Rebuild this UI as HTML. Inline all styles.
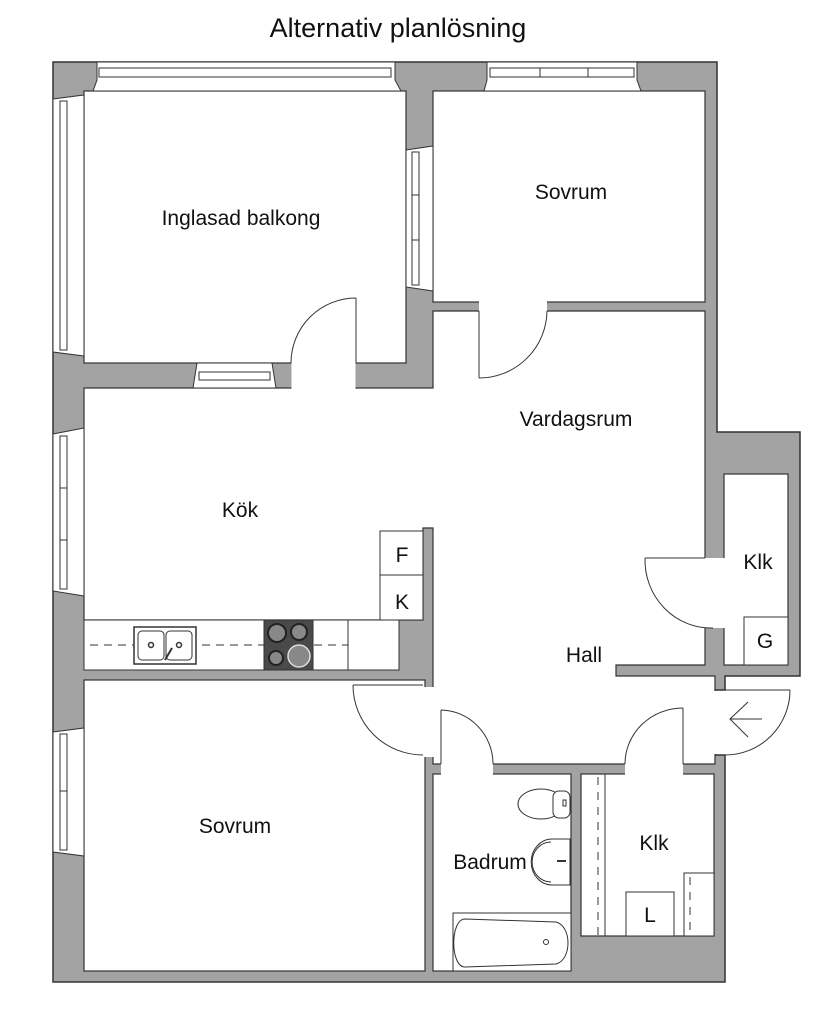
<!DOCTYPE html>
<html><head><meta charset="utf-8"><style>
html,body{margin:0;padding:0;background:#fff;}
svg{display:block;}
text{font-family:"Liberation Sans",sans-serif;fill:#111;}
</style></head><body>
<svg width="832" height="1024" viewBox="0 0 832 1024" xmlns="http://www.w3.org/2000/svg">
<text x="398" y="37" font-size="27" text-anchor="middle">Alternativ planlösning</text>

<polygon points="53,62 717,62 717,432 800,432 800,676 725,676 725,690 715,690 715,755 725,755 725,982 53,982" fill="#a3a3a3" stroke="#333" stroke-width="1.5"/>

<g fill="#fff" stroke="#333" stroke-width="1.2">
<rect x="84" y="91" width="322" height="272"/>
<rect x="433" y="91" width="272" height="211"/>
<polygon points="84,388 433,388 433,311 705,311 705,665 616,665 616,676 715,676 715,764 433,764 433,528 423,528 423,620 84,620"/>
<rect x="84" y="680" width="341" height="291"/>
<rect x="433" y="774" width="138" height="197"/>
<rect x="581" y="774" width="133" height="162"/>
<rect x="724" y="474" width="64" height="191"/>
</g>
<g fill="#fff">
<rect x="479" y="301" width="68" height="11"/>
<rect x="291.5" y="362" width="64" height="27"/>
<rect x="704" y="558" width="21" height="70"/>
<rect x="441" y="763" width="52" height="12"/>
<rect x="625" y="763" width="58" height="12"/>
<rect x="422" y="687" width="12" height="70"/>
<rect x="714" y="691" width="12" height="63"/>
</g>

<g fill="#fff" stroke="#333" stroke-width="1">
<polygon points="97,62 395,62 395,80 401,91 93,91 97,80"/>
<rect x="99" y="68" width="292" height="9"/>
<polygon points="487,62 637,62 637,80 641,91 484,91 487,80"/>
<rect x="490" y="68" width="144" height="9"/>
<line x1="540" y1="68" x2="540" y2="77"/><line x1="588" y1="68" x2="588" y2="77"/>
<polygon points="53,99 84,95 84,356 53,352"/>
<rect x="60" y="101" width="7" height="249"/>
<polygon points="53,434 84,428 84,596 53,591"/>
<rect x="60" y="436" width="7" height="153"/>
<line x1="60" y1="488" x2="67" y2="488"/><line x1="60" y1="540" x2="67" y2="540"/>
<polygon points="53,732 84,728 84,856 53,852"/>
<rect x="60" y="734" width="7" height="116"/>
<line x1="60" y1="791" x2="67" y2="791"/>
<polygon points="406,150 433,146 433,291 406,287"/>
<rect x="412" y="152" width="7" height="133"/>
<line x1="412" y1="195" x2="419" y2="195"/><line x1="412" y1="240" x2="419" y2="240"/>
<polygon points="197,363 272,363 276,388 193,388"/>
<rect x="199" y="372" width="71" height="8"/>
</g>

<g fill="none" stroke="#333" stroke-width="1">
<line x1="356" y1="298" x2="356" y2="363"/>
<path d="M356,298 A65,65 0 0 0 291,363"/>
<line x1="479" y1="311" x2="479" y2="378"/>
<path d="M479,378 A68,68 0 0 0 547,311"/>
<line x1="645" y1="558" x2="705" y2="558"/>
<path d="M645,558 A66,68 0 0 0 713,628"/>
<line x1="353" y1="685" x2="423" y2="685"/>
<path d="M353,685 A70,70 0 0 0 423,755"/>
<line x1="441" y1="710" x2="441" y2="764"/>
<path d="M441,710 A53,54 0 0 1 493,764"/>
<line x1="683" y1="708" x2="683" y2="764"/>
<path d="M683,708 A58,56 0 0 0 625,764"/>
<line x1="725" y1="690" x2="790" y2="690"/>
<path d="M790,690 A65,65 0 0 1 725,755"/>
<line x1="730" y1="719" x2="762" y2="719"/>
<polyline points="748,702 730,719 748,737"/>
</g>

<g stroke="#333" stroke-width="1">
<rect x="84" y="620" width="315" height="50" fill="#fff"/>
<line x1="348" y1="620" x2="348" y2="670"/>
<rect x="380" y="531" width="43" height="44" fill="#fff"/>
<rect x="380" y="575" width="43" height="45" fill="#fff"/>
<line x1="90" y1="645" x2="348" y2="645" stroke-dasharray="8,6"/>
<rect x="134" y="627" width="62" height="37" fill="#fff" stroke-width="1.5"/>
<rect x="138" y="631" width="26" height="29" rx="4" fill="#fff"/>
<rect x="166" y="631" width="26" height="29" rx="4" fill="#fff"/>
<circle cx="151" cy="645" r="2.5" fill="#fff" stroke-width="1.5"/>
<circle cx="179" cy="645" r="2.5" fill="#fff" stroke-width="1.5"/>
<line x1="165" y1="660" x2="172" y2="648" stroke-width="2"/>
<rect x="264" y="620" width="49" height="50" fill="#4a4a4a"/>
<circle cx="277" cy="633" r="9" fill="#888" stroke="#222" stroke-width="2"/>
<circle cx="299" cy="632" r="8" fill="#888" stroke="#222" stroke-width="2"/>
<circle cx="276" cy="658" r="7" fill="#888" stroke="#222" stroke-width="2"/>
<circle cx="299" cy="656" r="11" fill="#888" stroke="#ddd" stroke-width="1.5"/>
</g>

<g fill="#fff" stroke="#333" stroke-width="1">
<ellipse cx="541" cy="804" rx="23" ry="15"/>
<rect x="553" y="791" width="17" height="27" rx="6"/>
<rect x="563" y="800" width="3" height="6"/>
<path d="M570,839 L552,839 A19,21 0 1 0 552,885 L570,885 Z"/>
<path d="M551,842 A17,18 0 1 0 551,882" fill="none"/>
<line x1="557" y1="861" x2="566" y2="861" stroke-width="2"/>
<rect x="453" y="913" width="118" height="58"/>
<path d="M465,919 L556,922 C572,926 572,960 556,964 L465,967 C450,967 450,919 465,919 Z"/>
<circle cx="546" cy="942" r="2.5"/>
</g>

<g fill="none" stroke="#333" stroke-width="1">
<line x1="598" y1="777" x2="598" y2="936" stroke-dasharray="8,7"/>
<line x1="605" y1="774" x2="605" y2="936"/>
<rect x="626" y="892" width="48" height="44" fill="#fff"/>
<rect x="684" y="873" width="30" height="63" fill="#fff"/>
<line x1="690" y1="877" x2="690" y2="936" stroke-dasharray="8,7"/>
<rect x="744" y="617" width="44" height="48" fill="#fff"/>
</g>

<g font-size="21" text-anchor="middle">
<text x="241" y="225">Inglasad balkong</text>
<text x="571" y="199">Sovrum</text>
<text x="576" y="426">Vardagsrum</text>
<text x="240" y="517">Kök</text>
<text x="758" y="569">Klk</text>
<text x="765" y="648">G</text>
<text x="584" y="662">Hall</text>
<text x="235" y="833">Sovrum</text>
<text x="490" y="869">Badrum</text>
<text x="654" y="850">Klk</text>
<text x="650" y="922">L</text>
<text x="402" y="562">F</text>
<text x="402" y="609">K</text>
</g>
</svg>
</body></html>
